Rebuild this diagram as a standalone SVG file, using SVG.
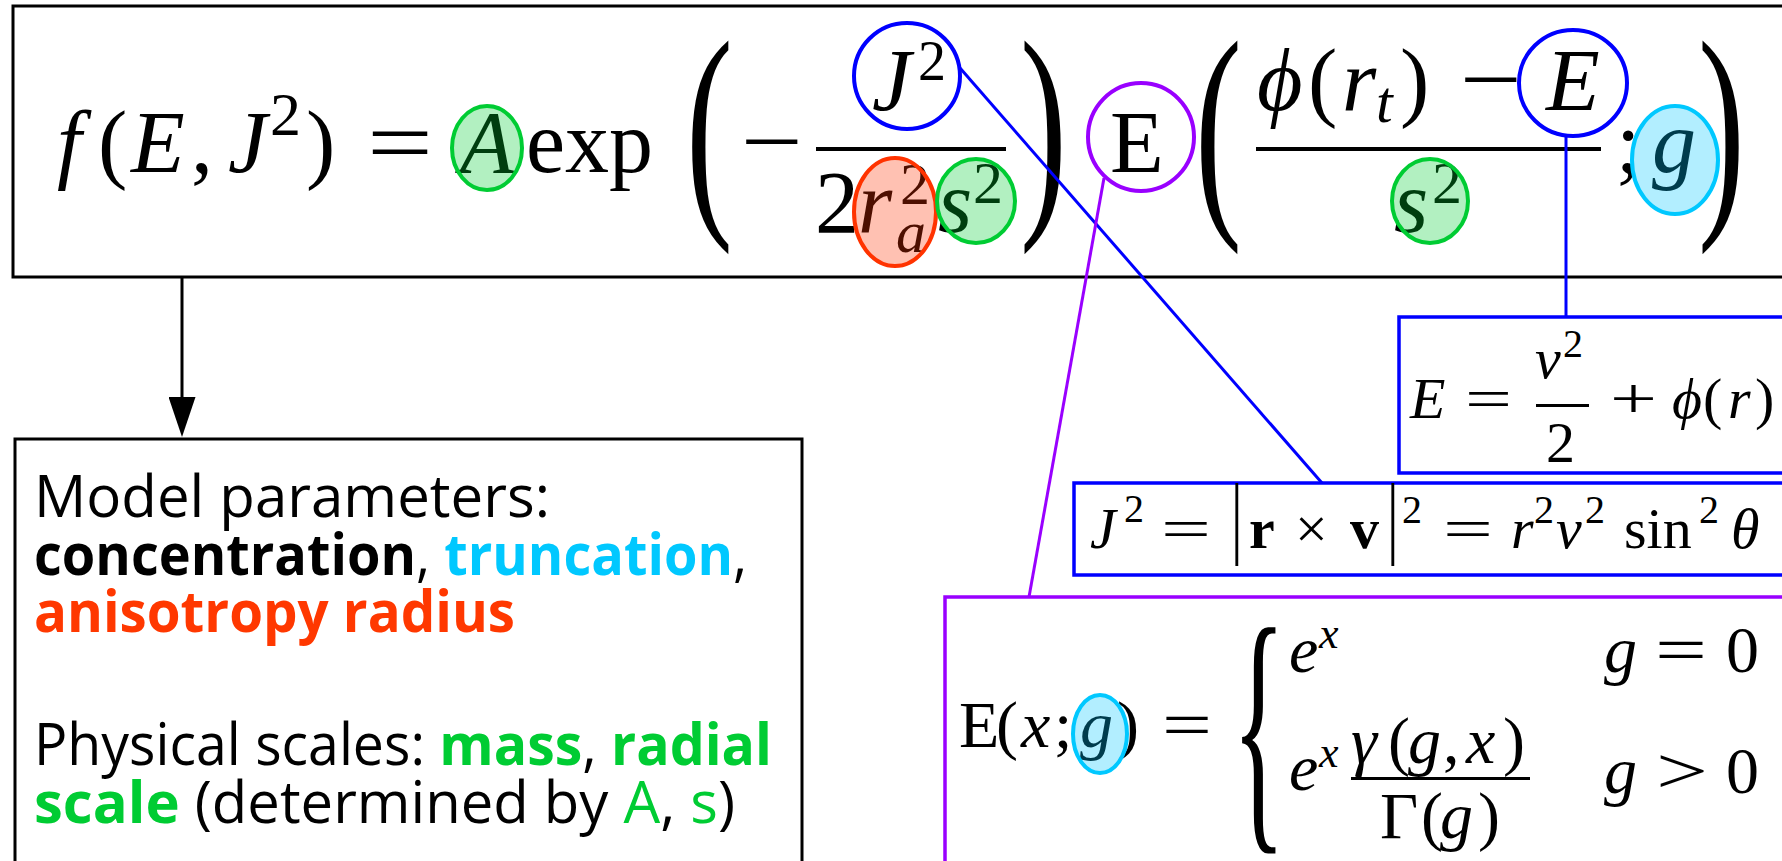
<svg xmlns="http://www.w3.org/2000/svg" width="1782" height="861" viewBox="0 0 1782 861">
<defs>
<style>
.box{fill:#fff;stroke:#000;stroke-width:3}
.bbox{fill:#fff;stroke:#0000FF;stroke-width:3.5}
.pbox{fill:#fff;stroke:#9900FF;stroke-width:3.5}
.mi{font-family:"Liberation Serif","Times New Roman",serif;font-style:italic;fill:#000}
.mr{font-family:"Liberation Serif","Times New Roman",serif;fill:#000}
.mb{font-family:"Liberation Serif","Times New Roman",serif;font-weight:bold;fill:#000}
.rule{fill:#000}
.hl-g{fill:#00CC33;fill-opacity:.3;stroke:#00CC33;stroke-width:4}
.hl-r{fill:#FF3300;fill-opacity:.3;stroke:#FF3300;stroke-width:4}
.hl-c{fill:#00C8FF;fill-opacity:.3;stroke:#00C8FF;stroke-width:4}
.ring-b{fill:none;stroke:#0000FF;stroke-width:4}
.ring-p{fill:none;stroke:#9900FF;stroke-width:4}
.lb{stroke:#0000FF;stroke-width:3;fill:none}
.lp{stroke:#9900FF;stroke-width:3;fill:none}
.la{stroke:#000;stroke-width:3;fill:none}
.txt{font-family:"Open Sans","Noto Sans",sans-serif;font-size:58px;fill:#000}
.b{font-weight:bold}
.cy{fill:#00C8FF}.rd{fill:#FF3800}.gr{fill:#00CC33}
</style>
<marker id="arrow" markerUnits="userSpaceOnUse" viewBox="0 0 40 27" markerWidth="40" markerHeight="27" refX="23" refY="13.5" orient="auto">
<path d="M0,0 L40,13.5 L0,27 z" fill="#000"/>
</marker>
</defs>
<rect width="1782" height="861" fill="#fff"/>

<g id="main-formula">
<rect class="box" x="13" y="6" width="1790" height="271"/>
<g font-size="88">
<text class="mi" x="57" y="172">f</text>
<text class="mr" x="98" y="172">(</text>
<text class="mi" x="131" y="172">E</text>
<text class="mr" x="191" y="172">,</text>
<text class="mi" x="228" y="172">J</text>
<text class="mr" font-size="62" x="270" y="135">2</text>
<text class="mr" x="306" y="172">)</text>
<text class="mr" x="367" y="172" textLength="66" lengthAdjust="spacingAndGlyphs">=</text>
<text class="mi" x="460" y="172">A</text>
<text class="mr" x="526" y="172">exp</text>
<text class="mr" transform="translate(686,204) scale(1.6,2.68)">(</text>
<text class="mr" x="741" y="171" textLength="62" lengthAdjust="spacingAndGlyphs">−</text>
<rect class="rule" x="816" y="147" width="190" height="4"/>
<text class="mi" x="872" y="110">J</text>
<text class="mr" font-size="56" x="918" y="80">2</text>
<text class="mr" x="815" y="232">2</text>
<text class="mi" x="858" y="232">r</text>
<text class="mr" font-size="60" x="900" y="204">2</text>
<text class="mi" font-size="60" x="896" y="252">a</text>
<text class="mi" x="938" y="232">s</text>
<text class="mr" font-size="60" x="973" y="203">2</text>
<text class="mr" transform="translate(1020,204) scale(1.6,2.68)">)</text>
<text class="mr" x="1110" y="172">E</text>
<text class="mr" transform="translate(1195,204) scale(1.6,2.68)">(</text>
<text class="mi" x="1257" y="110">ϕ</text>
<text class="mr" x="1308" y="110">(</text>
<text class="mi" x="1342" y="110">r</text>
<text class="mi" font-size="60" x="1376" y="122">t</text>
<text class="mr" x="1400" y="110">)</text>
<text class="mr" x="1460" y="109" textLength="62" lengthAdjust="spacingAndGlyphs">−</text>
<text class="mi" x="1546" y="110">E</text>
<rect class="rule" x="1256" y="147" width="345" height="4"/>
<text class="mi" x="1394" y="232">s</text>
<text class="mr" font-size="60" x="1432" y="203">2</text>
<text class="mr" x="1616" y="172">;</text>
<text class="mi" x="1652" y="172">g</text>
<text class="mr" transform="translate(1698,204) scale(1.6,2.68)">)</text>
</g>
<ellipse class="hl-g" cx="487" cy="148" rx="35" ry="42"/>
<ellipse class="ring-b" cx="907" cy="76" rx="53" ry="53"/>
<ellipse class="hl-r" cx="895" cy="212" rx="41" ry="54"/>
<ellipse class="hl-g" cx="976" cy="201" rx="39" ry="42"/>
<ellipse class="ring-p" cx="1141" cy="137" rx="53" ry="54"/>
<ellipse class="ring-b" cx="1573" cy="83" rx="54" ry="53"/>
<ellipse class="hl-g" cx="1430" cy="201" rx="38" ry="42"/>
<ellipse class="hl-c" cx="1675" cy="160" rx="43" ry="54"/>
</g>

<g id="parameters-box">
<rect class="box" x="15" y="439" width="787" height="440"/>
<text class="txt" x="34" y="517" textLength="516" lengthAdjust="spacingAndGlyphs">Model parameters:</text>
<text class="txt" x="34" y="575" textLength="713" lengthAdjust="spacingAndGlyphs"><tspan class="b">concentration</tspan>, <tspan class="b cy">truncation</tspan>,</text>
<text class="txt b rd" x="34" y="632" textLength="481" lengthAdjust="spacingAndGlyphs">anisotropy radius</text>
<text class="txt" x="34" y="765" textLength="738" lengthAdjust="spacingAndGlyphs">Physical scales: <tspan class="b gr">mass</tspan>, <tspan class="b gr">radial</tspan></text>
<text class="txt" x="34" y="823" textLength="701" lengthAdjust="spacingAndGlyphs"><tspan class="b gr">scale</tspan> (determined by <tspan class="gr">A</tspan>, <tspan class="gr">s</tspan>)</text>
</g>

<g id="energy-box">
<rect class="bbox" x="1399" y="317" width="400" height="156"/>
<g font-size="58">
<text class="mi" x="1410" y="418">E</text>
<text class="mr" x="1465" y="418" textLength="47" lengthAdjust="spacingAndGlyphs">=</text>
<text class="mi" x="1535" y="378">v</text>
<text class="mr" font-size="40" x="1563" y="357">2</text>
<rect class="rule" x="1536" y="404" width="53" height="3"/>
<text class="mr" x="1546" y="462">2</text>
<text class="mr" x="1610" y="418" textLength="47" lengthAdjust="spacingAndGlyphs">+</text>
<text class="mi" x="1672" y="418">ϕ</text>
<text class="mr" x="1703" y="418">(</text>
<text class="mi" x="1728" y="418">r</text>
<text class="mr" x="1755" y="418">)</text>
</g>
</g>

<g id="angular-momentum-box">
<rect class="bbox" x="1074" y="483" width="730" height="92"/>
<g font-size="58">
<text class="mi" x="1090" y="548">J</text>
<text class="mr" font-size="40" x="1124" y="522">2</text>
<text class="mr" x="1161" y="548" textLength="50" lengthAdjust="spacingAndGlyphs">=</text>
<text class="mr" transform="translate(1231,547) scale(1,1.58)">|</text>
<text class="mb" x="1249" y="548">r</text>
<text class="mr" x="1295" y="548">×</text>
<text class="mb" x="1350" y="548">v</text>
<text class="mr" transform="translate(1387,547) scale(1,1.58)">|</text>
<text class="mr" font-size="40" x="1402" y="523">2</text>
<text class="mr" x="1443" y="548" textLength="50" lengthAdjust="spacingAndGlyphs">=</text>
<text class="mi" x="1511" y="548">r</text>
<text class="mr" font-size="40" x="1534" y="523">2</text>
<text class="mi" x="1556" y="548">v</text>
<text class="mr" font-size="40" x="1585" y="523">2</text>
<text class="mr" x="1624" y="548">sin</text>
<text class="mr" font-size="40" x="1699" y="523">2</text>
<text class="mi" x="1731" y="548">θ</text>
</g>
</g>

<g id="e-function-box">
<rect class="pbox" x="945" y="597" width="860" height="290"/>
<g font-size="66">
<text class="mr" x="959" y="747">E</text>
<text class="mr" x="996" y="747">(</text>
<text class="mi" x="1021" y="747">x</text>
<text class="mr" x="1054" y="747">;</text>
<text class="mi" x="1080" y="747">g</text>
<text class="mr" x="1117" y="747">)</text>
<text class="mr" x="1162" y="747" textLength="50" lengthAdjust="spacingAndGlyphs">=</text>
<text class="mr" font-size="180" transform="translate(1232,817) scale(0.62,1.52)">{</text>
<text class="mi" x="1289" y="672">e</text>
<text class="mi" font-size="44" x="1319" y="648">x</text>
<text class="mi" x="1604" y="672">g</text>
<text class="mr" x="1655" y="672" textLength="52" lengthAdjust="spacingAndGlyphs">=</text>
<text class="mr" x="1726" y="672">0</text>
<text class="mi" x="1289" y="790">e</text>
<text class="mi" font-size="44" x="1319" y="767">x</text>
<text class="mi" x="1351" y="763">γ</text>
<text class="mr" x="1388" y="763">(</text>
<text class="mi" x="1408" y="763">g</text>
<text class="mr" x="1443" y="763">,</text>
<text class="mi" x="1466" y="763">x</text>
<text class="mr" x="1503" y="763">)</text>
<rect class="rule" x="1351" y="777" width="179" height="3"/>
<text class="mr" x="1380" y="838">Γ</text>
<text class="mr" x="1421" y="838">(</text>
<text class="mi" x="1440" y="838">g</text>
<text class="mr" x="1478" y="838">)</text>
<text class="mi" x="1604" y="793">g</text>
<text class="mr" x="1656" y="793" textLength="52" lengthAdjust="spacingAndGlyphs">&gt;</text>
<text class="mr" x="1726" y="793">0</text>
</g>
<ellipse class="hl-c" cx="1100" cy="734" rx="27" ry="39"/>
</g>

<g id="connectors">
<line class="la" x1="182" y1="277" x2="182" y2="420" marker-end="url(#arrow)"/>
<line class="lb" x1="960" y1="68" x2="1322" y2="483"/>
<line class="lb" x1="1566" y1="137" x2="1566" y2="317"/>
<line class="lp" x1="1104" y1="178" x2="1029" y2="597"/>
</g>
</svg>
